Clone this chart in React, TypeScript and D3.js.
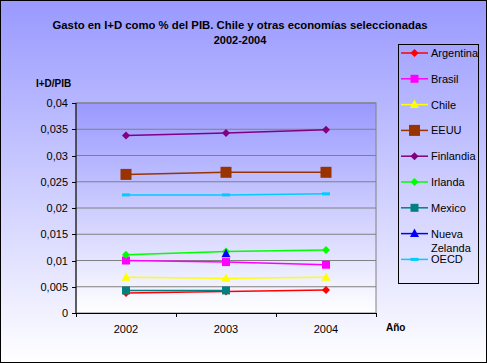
import React from 'react';
import * as d3 from 'd3';

// Years on the x axis
const years = ['2002', '2003', '2004'];

// Series values (share of GDP), null where no data
const argentina = [0.0038, 0.0041, 0.0044];
const brasil = [0.01, 0.0097, 0.0092];
const chile = [0.0068, 0.0066, 0.0068];
const eeuu = [0.0264, 0.0268, 0.0268];
const finlandia = [0.0338, 0.0343, 0.0349];
const irlanda = [0.0111, 0.0117, 0.012];
const mexico = [0.0043, 0.0043, null];
const nuevaZelanda = [null, 0.0113, null];
const oecd = [0.0225, 0.0225, 0.0227];

const yTicks = [0, 0.005, 0.01, 0.015, 0.02, 0.025, 0.03, 0.035, 0.04];

type Marker = 'diamond' | 'square' | 'bigsquare' | 'triangle' | 'dash';

const series: { name: string[]; values: (number | null)[]; color: string; marker: Marker }[] = [
  { name: ['Argentina'], values: argentina, color: '#ff0000', marker: 'diamond' },
  { name: ['Brasil'], values: brasil, color: '#ff00ff', marker: 'square' },
  { name: ['Chile'], values: chile, color: '#ffff00', marker: 'triangle' },
  { name: ['EEUU'], values: eeuu, color: '#993300', marker: 'bigsquare' },
  { name: ['Finlandia'], values: finlandia, color: '#800080', marker: 'diamond' },
  { name: ['Irlanda'], values: irlanda, color: '#00ff00', marker: 'diamond' },
  { name: ['Mexico'], values: mexico, color: '#008080', marker: 'square' },
  { name: ['Nueva', 'Zelanda'], values: nuevaZelanda, color: '#0000ff', marker: 'triangle' },
  { name: ['OECD'], values: oecd, color: '#00ccff', marker: 'dash' },
];

const W = 487;
const H = 363;
const plot = { left: 76, right: 376, top: 103, bottom: 313 };

const fmt = (v: number) => (v === 0 ? '0' : String(+v.toFixed(3)).replace('.', ','));

function MarkerShape({ type, x, y, color }: { type: Marker; x: number; y: number; color: string }) {
  switch (type) {
    case 'diamond':
      return <path d={`M${x},${y - 4}L${x + 4},${y}L${x},${y + 4}L${x - 4},${y}Z`} fill={color} />;
    case 'square':
      return <rect x={x - 4} y={y - 4} width={8} height={8} fill={color} />;
    case 'bigsquare':
      return <rect x={x - 5.5} y={y - 5.5} width={11} height={11} fill={color} />;
    case 'triangle':
      return <path d={`M${x},${y - 5}L${x + 4.5},${y + 3.5}L${x - 4.5},${y + 3.5}Z`} fill={color} />;
    case 'dash':
      return <rect x={x - 4} y={y - 1.5} width={8} height={3} fill={color} />;
  }
}

export default function App() {
  const x = d3.scaleBand().domain(years).range([plot.left, plot.right]);
  const y = d3.scaleLinear().domain([0, 0.04]).range([plot.bottom, plot.top]);
  const cx = (yr: string) => (x(yr) as number) + x.bandwidth() / 2;

  const line = d3
    .line<number | null>()
    .defined((d) => d !== null)
    .x((_, i) => cx(years[i]))
    .y((d) => y(d as number));

  const font = 'Liberation Sans, Arial, sans-serif';
  const legendX = 399;
  const legendY0 = 53;
  const legendStep = 25.8;

  return (
    <>
      <style>{'body{margin:0}'}</style>
      <svg width={W} height={H} style={{ display: 'block' }} fontFamily={font}>
        <defs>
          <linearGradient id="bg" x1="0" y1="0" x2="0" y2="1">
            <stop offset="0" stopColor="#9999ff" />
            <stop offset="1" stopColor="#ffffff" />
          </linearGradient>
          <linearGradient id="pa" x1="0" y1="0" x2="0" y2="1">
            <stop offset="0" stopColor="#9999ff" />
            <stop offset="1" stopColor="#ffffff" />
          </linearGradient>
        </defs>
        <rect x={0.5} y={0.5} width={W - 1} height={H - 1} fill="url(#bg)" stroke="#000" />

        {/* title */}
        <text x={240} y={29} textAnchor="middle" fontWeight="bold" fontSize={11} textLength={375} lengthAdjust="spacingAndGlyphs">
          Gasto en I+D como % del PIB. Chile y otras economías seleccionadas
        </text>
        <text x={240} y={44} textAnchor="middle" fontWeight="bold" fontSize={11}>
          2002-2004
        </text>

        {/* plot area */}
        <rect x={plot.left} y={plot.top} width={plot.right - plot.left} height={plot.bottom - plot.top} fill="url(#pa)" stroke="#808080" />
        {yTicks.filter((t) => t > 0).map((t) => (
          <line key={t} x1={plot.left} x2={plot.right} y1={y(t)} y2={y(t)} stroke="#808080" />
        ))}

        {/* axes */}
        <line x1={plot.left} x2={plot.left} y1={plot.top} y2={plot.bottom} stroke="#000" />
        <line x1={plot.left - 4} x2={plot.right} y1={plot.bottom + 0.5} y2={plot.bottom + 0.5} stroke="#000" />
        {yTicks.map((t) => (
          <g key={t}>
            <line x1={plot.left - 4} x2={plot.left} y1={Math.round(y(t)) + 0.5} y2={Math.round(y(t)) + 0.5} stroke="#000" />
            <text x={plot.left - 8} y={y(t) + 4} textAnchor="end" fontSize={11}>
              {fmt(t)}
            </text>
          </g>
        ))}
        {[...years.map((yr) => x(yr) as number), plot.right].map((bx, i) => (
          <line key={i} x1={Math.round(bx) + 0.5} x2={Math.round(bx) + 0.5} y1={plot.bottom} y2={plot.bottom + 4} stroke="#000" />
        ))}
        {years.map((yr) => (
          <text key={yr} x={cx(yr)} y={333} textAnchor="middle" fontSize={11}>
            {yr}
          </text>
        ))}
        <text x={36} y={87} fontWeight="bold" fontSize={10}>
          I+D/PIB
        </text>
        <text x={386} y={331} fontWeight="bold" fontSize={10}>
          Año
        </text>

        {/* series */}
        {series.map((s) => (
          <g key={s.name.join(' ')}>
            <path d={line(s.values) || ''} fill="none" stroke={s.color} strokeWidth={1.5} />
            {s.values.map((v, i) =>
              v === null ? null : <MarkerShape key={i} type={s.marker} x={cx(years[i])} y={y(v)} color={s.color} />
            )}
          </g>
        ))}

        {/* legend */}
        <rect x={398.5} y={44.5} width={80} height={239} fill="none" stroke="#000" />
        {series.map((s, i) => {
          const ly = legendY0 + i * legendStep;
          return (
            <g key={s.name.join(' ')}>
              <line x1={legendX + 2} x2={legendX + 29} y1={ly} y2={ly} stroke={s.color} strokeWidth={1.5} />
              <MarkerShape type={s.marker} x={legendX + 15.5} y={ly} color={s.color} />
              {s.name.map((n, j) => (
                <text key={n} x={legendX + 32} y={ly + 4 + (j === 0 ? 0 : 14)} fontSize={11}>
                  {n}
                </text>
              ))}
            </g>
          );
        })}
      </svg>
    </>
  );
}
